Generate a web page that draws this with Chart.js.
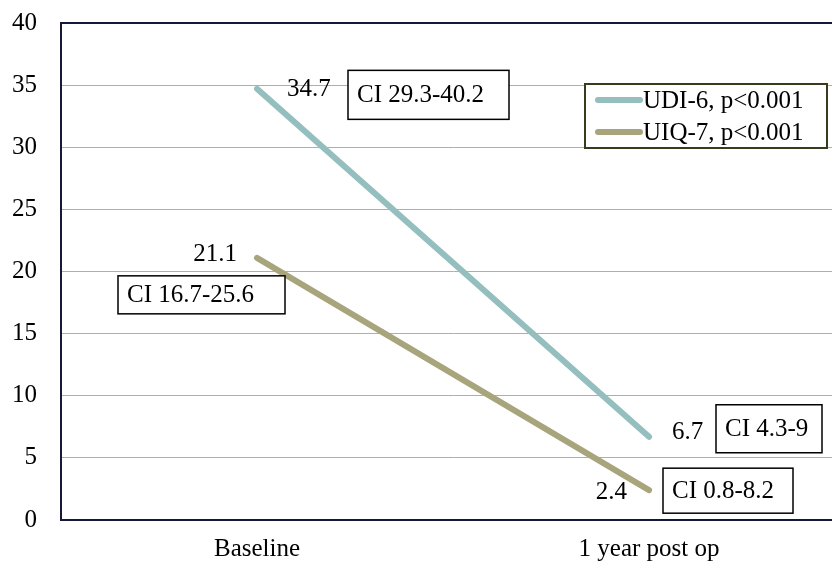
<!DOCTYPE html>
<html>
<head>
<meta charset="utf-8">
<script src="https://cdn.jsdelivr.net/npm/chart.js@4"></script>
<style>
html, body { margin: 0; padding: 0; background: #fff; overflow: hidden; }
#marco { width: 832px; height: 564px; overflow: hidden; }
</style>
</head>
<body>
<div id="marco">
  <canvas id="grafico" width="845" height="564"></canvas>
</div>
<script>
// Datos del grafico
const categorias = ['Baseline', '1 year post op'];
const nombresSeries = ['UDI-6, p<0.001', 'UIQ-7, p<0.001'];
const udi6 = [34.7, 6.7];
const uiq7 = [21.1, 2.4];
const udi6CI = ['CI 29.3-40.2', 'CI 4.3-9'];
const uiq7CI = ['CI 16.7-25.6', 'CI 0.8-8.2'];
const ticksY = [0, 5, 10, 15, 20, 25, 30, 35, 40];

const fuente = '"Liberation Serif", "Times New Roman", serif';
const oscuro = '#17173a';

// Etiquetas de valor y cajas de intervalo de confianza
const etiquetas = {
    id: 'etiquetas',
    afterDatasetsDraw(chart, args, opts) {
        const ctx = chart.ctx;
        ctx.save();
        ctx.font = '25px ' + fuente;
        ctx.textBaseline = 'middle';
        chart.data.datasets.forEach(function (ds, d) {
            const meta = chart.getDatasetMeta(d);
            meta.data.forEach(function (pt, i) {
                const p = opts.posiciones[d][i];
                // valor
                ctx.fillStyle = '#000';
                ctx.textAlign = p.align;
                ctx.fillText(ds.data[i].toFixed(1), pt.x + p.dx, pt.y + p.dy);
                // caja CI
                const bx = pt.x + p.bx, by = pt.y + p.by;
                ctx.fillStyle = '#fff';
                ctx.fillRect(bx, by, p.bw, p.bh);
                ctx.strokeStyle = '#000';
                ctx.lineWidth = 1.5;
                ctx.strokeRect(bx, by, p.bw, p.bh);
                ctx.fillStyle = '#000';
                ctx.textAlign = 'left';
                ctx.fillText(ds.ci[i], bx + 9, by + p.bh / 2 + 1);
            });
        });

        // leyenda dentro del area
        const a = chart.chartArea;
        const lx = a.right - 260, ly = a.top + 61, lw = 242, lh = 64;
        ctx.fillStyle = '#fff';
        ctx.fillRect(lx, ly, lw, lh);
        ctx.strokeStyle = '#3a3a1c';
        ctx.lineWidth = 2;
        ctx.strokeRect(lx, ly, lw, lh);
        chart.data.datasets.forEach(function (ds, d) {
            const y = ly + 16 + d * 32;
            ctx.strokeStyle = ds.borderColor;
            ctx.lineWidth = 6;
            ctx.lineCap = 'round';
            ctx.beginPath();
            ctx.moveTo(lx + 13, y);
            ctx.lineTo(lx + 55, y);
            ctx.stroke();
            ctx.fillStyle = '#000';
            ctx.textAlign = 'left';
            ctx.fillText(ds.label, lx + 58, y + 1);
        });
        ctx.restore();
    }
};

// fondo blanco y borde superior del area
const fondo = {
    id: 'fondo',
    beforeDraw(chart) {
        const ctx = chart.ctx;
        ctx.save();
        ctx.fillStyle = '#fff';
        ctx.fillRect(0, 0, chart.width, chart.height);
        ctx.restore();
    },
    afterDraw(chart) {
        const ctx = chart.ctx;
        const a = chart.chartArea;
        ctx.save();
        ctx.strokeStyle = oscuro;
        ctx.lineWidth = 2;
        ctx.beginPath();
        ctx.moveTo(a.left - 1, a.top);
        ctx.lineTo(a.right, a.top);
        ctx.stroke();
        ctx.restore();
    }
};

new Chart(document.getElementById('grafico'), {
    type: 'line',
    data: {
        labels: categorias,
        datasets: [{
            label: nombresSeries[0],
            data: udi6,
            ci: udi6CI,
            borderColor: '#94bfbe',
            borderWidth: 6,
            borderCapStyle: 'round',
            pointRadius: 0,
            fill: false,
            tension: 0
        }, {
            label: nombresSeries[1],
            data: uiq7,
            ci: uiq7CI,
            borderColor: '#a8a47c',
            borderWidth: 6,
            borderCapStyle: 'round',
            pointRadius: 0,
            fill: false,
            tension: 0
        }]
    },
    options: {
        responsive: false,
        animation: false,
        layout: { padding: { top: 23, right: 0, left: 0, bottom: 0 } },
        plugins: {
            legend: { display: false },
            tooltip: { enabled: false },
            etiquetas: {
                posiciones: [
                    [
                        { align: 'left', dx: 30, dy: 0.5, bx: 91, by: -18.5, bw: 161, bh: 49 },
                        { align: 'left', dx: 23, dy: -4, bx: 67, by: -32, bw: 106, bh: 48 }
                    ],
                    [
                        { align: 'right', dx: -20, dy: -3, bx: -139, by: 18, bw: 167, bh: 38 },
                        { align: 'right', dx: -22, dy: 2, bx: 14, by: -22, bw: 130, bh: 45 }
                    ]
                ]
            }
        },
        scales: {
            x: {
                offset: true,
                grid: { display: false, drawTicks: false },
                border: { display: true, color: oscuro, width: 2 },
                ticks: { color: '#000', padding: 14, font: { family: fuente, size: 25 } },
                afterFit: function (s) { s.height = 44; }
            },
            y: {
                min: 0,
                max: 40,
                afterBuildTicks: function (s) { s.ticks = ticksY.map(v => ({ value: v })); },
                grid: {
                    drawTicks: true,
                    tickLength: 24,
                    tickColor: 'rgba(0,0,0,0)',
                    color: '#aca6dc',
                    lineWidth: 1
                },
                border: { display: true, color: oscuro, width: 2 },
                ticks: { color: '#000', padding: 0, font: { family: fuente, size: 25 } },
                afterFit: function (s) { s.width = 61; }
            }
        }
    },
    plugins: [fondo, etiquetas]
});
</script>
</body>
</html>
